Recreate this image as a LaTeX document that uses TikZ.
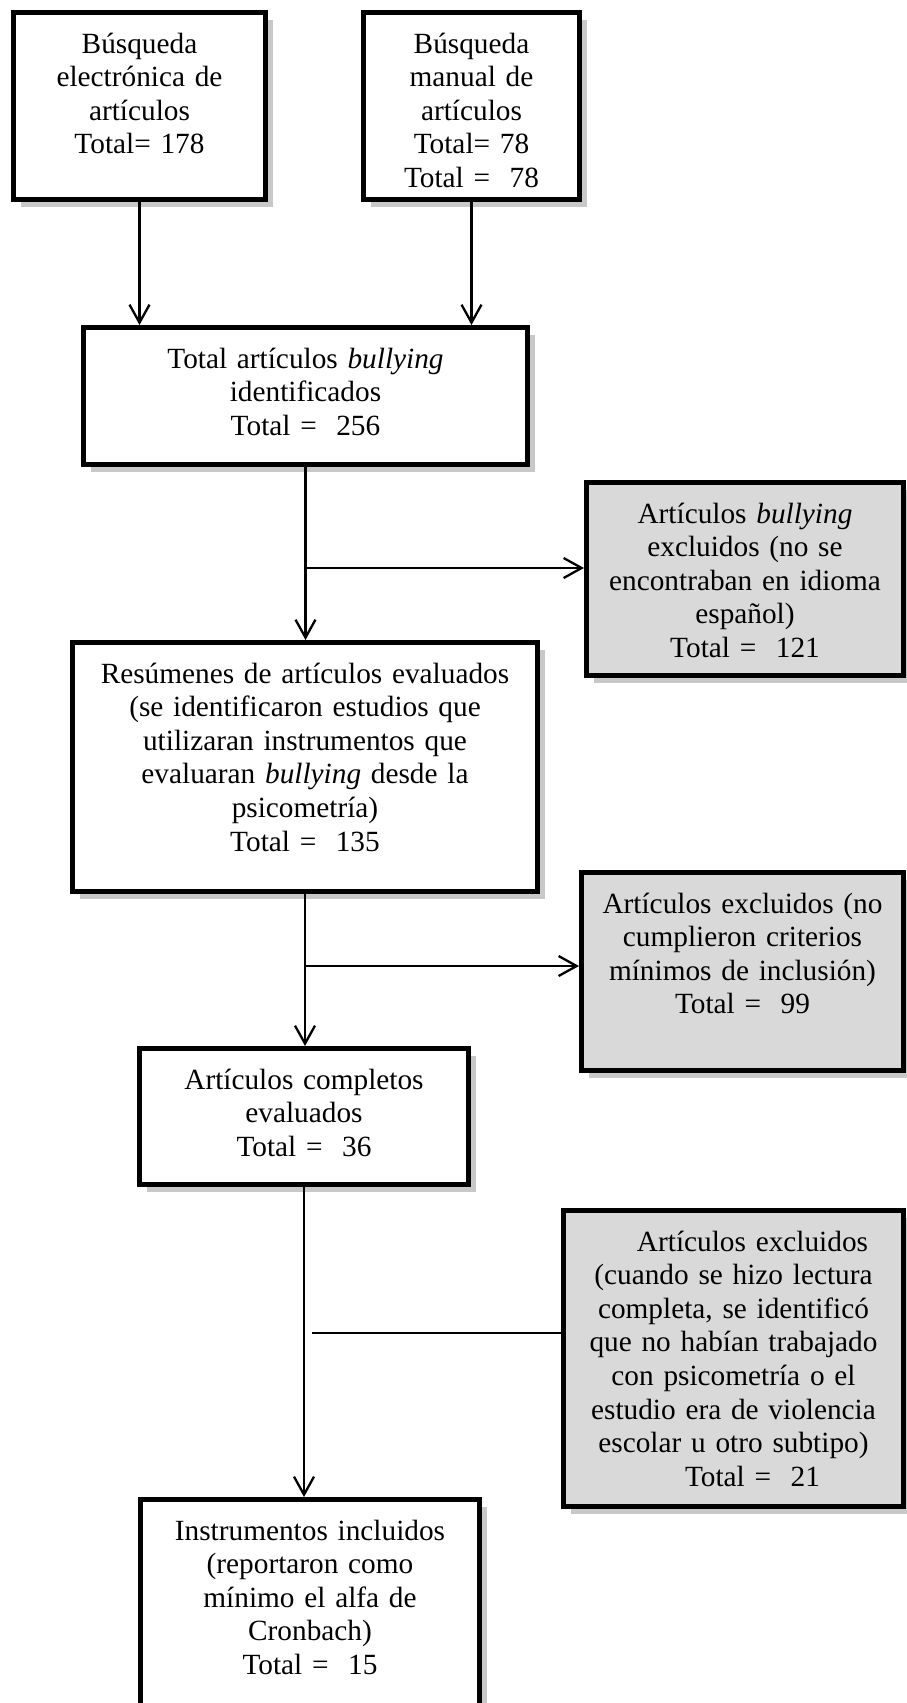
\documentclass[tikz,border=0pt]{standalone}
\usepackage{fontspec}
\setmainfont{Liberation Serif}
\usetikzlibrary{arrows.meta,shadows}
\definecolor{boxgrey}{HTML}{D9D9D9}
\definecolor{shadowgrey}{HTML}{C8C8C8}
\begin{document}
\begin{tikzpicture}[x=1pt, y=-1pt,
        flowbox/.style={draw, line width=5pt, fill=white, align=center, anchor=north,
            inner xsep=6pt, inner ysep=12.5pt, text height=28pt,
            font=\fontsize{29.3}{33.6}\selectfont,
            drop shadow={shadow xshift=7pt, shadow yshift=-7pt, fill=shadowgrey, opacity=1}},
        greybox/.style={flowbox, fill=boxgrey},
        flowline/.style={line width=2.3pt},
        flowarrow/.style={flowline, -{Straight Barb[length=18pt, width=20pt, line width=2.3pt]}}]
        \useasboundingbox (0,0) rectangle (907,1703);
        \clip (0,0) rectangle (907,1703);
        % boxes
        \node[flowbox, text width=240pt, text depth=134pt] (busqelec) at (139.5, 10) {Búsqueda\\electrónica de\\artículos\\Total= 178};
        \node[flowbox, text width=204pt, text depth=134pt] (busqman) at (471.5, 10) {Búsqueda\\manual de\\artículos\\Total= 78\\Total = \ 78};
        \node[flowbox, text width=432pt, text depth=84pt] (totalart) at (305.5, 325) {Total artículos \textit{bullying}\\identificados\\Total = \ 256};
        \node[greybox, text width=305pt, text depth=140pt] (exclidioma) at (745, 480) {Artículos \textit{bullying}\\excluidos (no se\\encontraban en idioma\\español)\\Total = \ 121};
        \node[flowbox, text width=453pt, text depth=196pt] (resumenes) at (305, 640) {Resúmenes de artículos evaluados\\(se identificaron estudios que\\utilizaran instrumentos que\\evaluaran \textit{bullying} desde la\\psicometría)\\Total = \ 135};
        \node[greybox, text width=310pt, text depth=145pt] (exclcriterios) at (742.5, 870) {Artículos excluidos (no\\cumplieron criterios\\mínimos de inclusión)\\Total = \ 99};
        \node[flowbox, text width=317pt, text depth=83pt] (completos) at (304, 1046) {Artículos completos\\evaluados\\Total = \ 36};
        \node[greybox, text width=328pt, text depth=243pt] (excllectura) at (733.5, 1208) {\hspace*{38pt}Artículos excluidos\\(cuando se hizo lectura\\completa, se identificó\\que no habían trabajado\\con psicometría o el\\estudio era de violencia\\escolar u otro subtipo)\\\hspace*{38pt}Total = \ 21};
        \node[flowbox, text width=327pt, text depth=185pt] (incluidos) at (310, 1497) {Instrumentos incluidos\\(reportaron como\\mínimo el alfa de\\Cronbach)\\Total = \ 15};
        % connectors
        \draw[flowarrow] (busqelec.south) -- (busqelec.south |- totalart.north);
        \draw[flowarrow] (busqman.south) -- (busqman.south |- totalart.north);
        \draw[flowarrow] (totalart.south) -- (totalart.south |- resumenes.north);
        \draw[flowarrow] (resumenes.south) -- (resumenes.south |- completos.north);
        \draw[flowarrow] (completos.south) -- (completos.south |- incluidos.north);
        \coordinate (split1) at (305.5, 568);
        \coordinate (split2) at (305, 966);
        \coordinate (split3) at (312, 1333);
        \draw[flowarrow] (split1) -- (split1 -| exclidioma.west);
        \draw[flowarrow] (split2) -- (split2 -| exclcriterios.west);
        \draw[flowline] (split3) -- (split3 -| excllectura.west);
    \end{tikzpicture}
\end{document}
